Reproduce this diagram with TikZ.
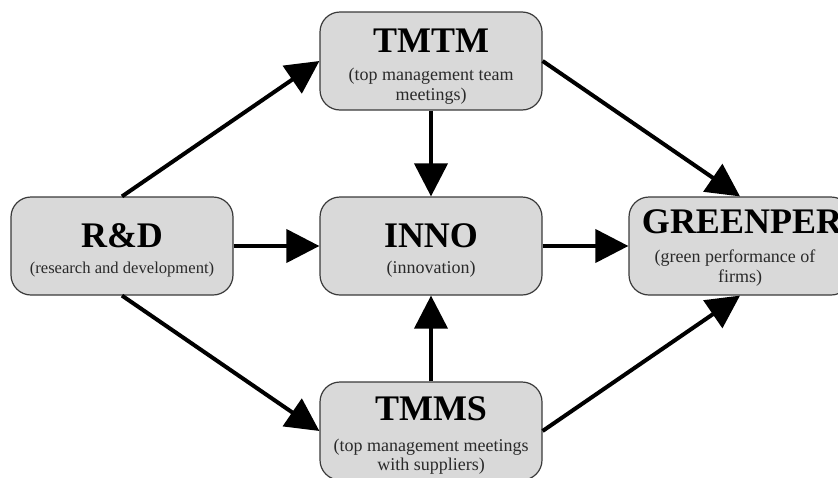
\documentclass[tikz,border=0pt]{standalone}
\usepackage{fontspec}
\setmainfont{Liberation Serif}
\usetikzlibrary{arrows.meta}
\definecolor{boxfill}{HTML}{D9D9D9}
\definecolor{boxline}{HTML}{3A3A3A}
\definecolor{subtext}{HTML}{2A2A2A}
\tikzset{
  box/.style={draw=boxline, line width=1.2pt, fill=boxfill, rounded corners=20pt,
    minimum width=222pt, minimum height=98pt, inner sep=0pt},
  ttl/.style={anchor=base, inner sep=0pt, font=\fontsize{36}{36}\selectfont\bfseries},
  sub/.style={anchor=base, inner sep=0pt, text=subtext, font=\fontsize{18}{20}\selectfont},
  arr/.style={line width=4pt, -{Triangle[length=33pt,width=33pt]}}
}
\begin{document}
\begin{tikzpicture}[x=1pt,y=-1pt]
\path[use as bounding box, clip] (0,0) rectangle (838,477);
% boxes
\node[box] (rd) at (122,246) {};
\node[box] (tmtm) at (431,61) {};
\node[box] (inno) at (431,246) {};
\node[box] (green) at (740,246) {};
\node[box] (tmms) at (431,431) {};
% texts
\node[ttl] (rdT) at (122,247) {R\&D};
\node[sub, font=\fontsize{16.6}{20}\selectfont] (rdS) at (122,273) {(research and development)};
\node[ttl] (tmtmT) at (431,52) {TMTM};
\node[sub] (tmtmS1) at (431,80) {(top management team};
\node[sub] (tmtmS2) at (431,100) {meetings)};
\node[ttl] (innoT) at (431,247) {INNO};
\node[sub] (innoS) at (431,273) {(innovation)};
\node[ttl] (greenT) at (742,233) {GREENPER};
\node[sub] (greenS1) at (735,262) {(green performance of};
\node[sub] (greenS2) at (740,282) {firms)};
\node[ttl] (tmmsT) at (431,420) {TMMS};
\node[sub] (tmmsS1) at (431,451) {(top management meetings};
\node[sub] (tmmsS2) at (431,470) {with suppliers)};
% connectors
\draw[arr] (rd.north) -- (tmtm.west);
\draw[arr] (tmtm.east) -- (green.north);
\draw[arr] (rd.south) -- (tmms.west);
\draw[arr] (tmms.east) -- (green.south);
\draw[arr] (rd.east) -- (inno.west);
\draw[arr] (inno.east) -- (green.west);
\draw[arr] (tmtm.south) -- (inno.north);
\draw[arr] (tmms.north) -- (inno.south);
\end{tikzpicture}
\end{document}
